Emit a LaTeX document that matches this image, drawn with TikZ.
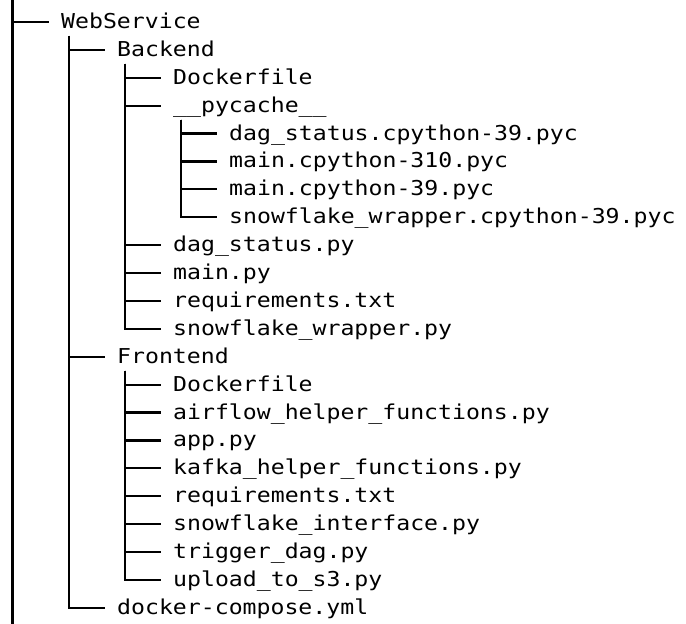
\documentclass[tikz,border=0pt]{standalone}
\usepackage{fontspec}
\usepackage{tikz}
\newfontfamily\treefont[FakeStretch=1.13]{DejaVu Sans Mono}

\begin{document}
\begin{tikzpicture}[
  x=1pt, y=1pt,
  entry/.style={anchor=west, inner sep=0pt, text height=16pt, text depth=3pt,
               font=\treefont\fontsize{20.5}{24}\selectfont},
  branch/.style={draw, line width=2.2pt}
]
  \path[use as bounding box] (0,0) rectangle (686,624);

  \node[entry] (web)      at (61, 602)   {WebService};
  \node[entry] (back)     at (117, 574.1) {Backend};
  \node[entry] (bdock)    at (173, 546.2) {Dockerfile};
  \node[entry] (pyc)      at (173, 518.3) {\_\_pycache\_\_};
  \node[entry] (pdag)     at (229, 490.4) {dag\_status.cpython-39.pyc};
  \node[entry] (pmain310) at (229, 462.5) {main.cpython-310.pyc};
  \node[entry] (pmain39)  at (229, 434.6) {main.cpython-39.pyc};
  \node[entry] (psnow)    at (229, 406.7) {snowflake\_wrapper.cpython-39.pyc};
  \node[entry] (bdag)     at (173, 378.8) {dag\_status.py};
  \node[entry] (bmain)    at (173, 350.9) {main.py};
  \node[entry] (breq)     at (173, 323)   {requirements.txt};
  \node[entry] (bsnow)    at (173, 295.1) {snowflake\_wrapper.py};
  \node[entry] (front)    at (117, 267.2) {Frontend};
  \node[entry] (fdock)    at (173, 239.3) {Dockerfile};
  \node[entry] (fair)     at (173, 211.4) {airflow\_helper\_functions.py};
  \node[entry] (fapp)     at (173, 183.5) {app.py};
  \node[entry] (fkafka)   at (173, 155.6) {kafka\_helper\_functions.py};
  \node[entry] (freq)     at (173, 127.7) {requirements.txt};
  \node[entry] (fsnow)    at (173, 99.8)  {snowflake\_interface.py};
  \node[entry] (ftrig)    at (173, 71.9)  {trigger\_dag.py};
  \node[entry] (fup)      at (173, 44)    {upload\_to\_s3.py};
  \node[entry] (compose)  at (117, 16.1)  {docker-compose.yml};

  % outer rail, runs past both edges
  \coordinate (rtop) at (12.5, 624);
  \coordinate (rbot) at (12.5, 0);
  \draw[branch] (rtop) -- (rbot);
  \draw[branch] (rtop |- web.west) -- ([xshift=-12pt]web.west);

  \draw[branch] (web.west) ++(8,-14) |- ([xshift=-12pt]back.west);
  \draw[branch] (web.west) ++(8,-14) |- ([xshift=-12pt]front.west);
  \draw[branch] (web.west) ++(8,-14) |- ([xshift=-12pt]compose.west);

  \draw[branch] (back.west) ++(8,-14) |- ([xshift=-12pt]bdock.west);
  \draw[branch] (back.west) ++(8,-14) |- ([xshift=-12pt]pyc.west);
  \draw[branch] (back.west) ++(8,-14) |- ([xshift=-12pt]bdag.west);
  \draw[branch] (back.west) ++(8,-14) |- ([xshift=-12pt]bmain.west);
  \draw[branch] (back.west) ++(8,-14) |- ([xshift=-12pt]breq.west);
  \draw[branch] (back.west) ++(8,-14) |- ([xshift=-12pt]bsnow.west);

  \draw[branch] (pyc.west) ++(8,-14) |- ([xshift=-12pt]pdag.west);
  \draw[branch] (pyc.west) ++(8,-14) |- ([xshift=-12pt]pmain310.west);
  \draw[branch] (pyc.west) ++(8,-14) |- ([xshift=-12pt]pmain39.west);
  \draw[branch] (pyc.west) ++(8,-14) |- ([xshift=-12pt]psnow.west);

  \draw[branch] (front.west) ++(8,-14) |- ([xshift=-12pt]fdock.west);
  \draw[branch] (front.west) ++(8,-14) |- ([xshift=-12pt]fair.west);
  \draw[branch] (front.west) ++(8,-14) |- ([xshift=-12pt]fapp.west);
  \draw[branch] (front.west) ++(8,-14) |- ([xshift=-12pt]fkafka.west);
  \draw[branch] (front.west) ++(8,-14) |- ([xshift=-12pt]freq.west);
  \draw[branch] (front.west) ++(8,-14) |- ([xshift=-12pt]fsnow.west);
  \draw[branch] (front.west) ++(8,-14) |- ([xshift=-12pt]ftrig.west);
  \draw[branch] (front.west) ++(8,-14) |- ([xshift=-12pt]fup.west);
\end{tikzpicture}
\end{document}
